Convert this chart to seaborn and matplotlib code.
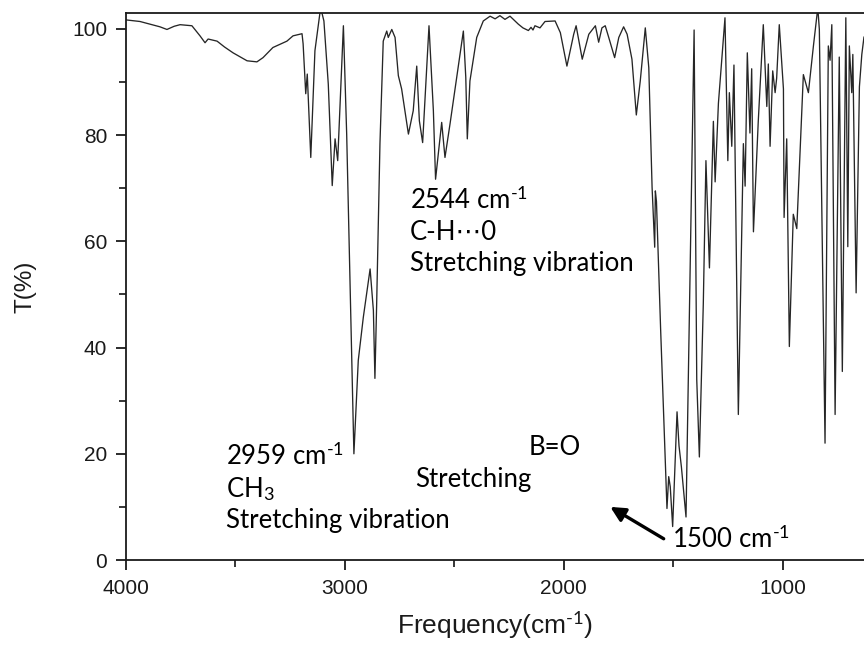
import matplotlib
matplotlib.use("Agg")
import matplotlib.pyplot as plt
import seaborn as sns
import pandas as pd

# IR transmittance spectrum: wavenumber (cm-1) and transmittance (%)
wavenumber = [
    4000, 3936, 3890, 3845, 3813, 3780, 3753, 3699, 3662, 3639, 3625, 3584, 3550, 3511,
    3447, 3402, 3374, 3329, 3265, 3237, 3196, 3191, 3179, 3172, 3156, 3137, 3111, 3096,
    3076, 3058, 3045, 3033, 3007, 2992, 2959, 2939, 2916, 2885, 2870, 2863, 2855, 2840,
    2825, 2809, 2802, 2786, 2771, 2756, 2741, 2710, 2688, 2672, 2660, 2645, 2616, 2596,
    2586, 2558, 2543, 2520, 2497, 2459, 2448, 2441, 2429, 2398, 2368, 2337, 2314, 2292,
    2269, 2246, 2208, 2187, 2162, 2150, 2141, 2132, 2109, 2086, 2040, 2016, 1986, 1955,
    1944, 1916, 1886, 1856, 1841, 1826, 1811, 1795, 1768, 1749, 1727, 1711, 1689, 1669,
    1651, 1628, 1612, 1597, 1585, 1582, 1577, 1558, 1529, 1521, 1514, 1503, 1483, 1474,
    1463, 1442, 1405, 1393, 1381, 1363, 1351, 1335, 1317, 1309, 1294, 1264, 1251, 1244,
    1233, 1223, 1203, 1180, 1172, 1162, 1150, 1142, 1134, 1112, 1089, 1073, 1066, 1058,
    1046, 1035, 1028, 1016, 997, 994, 982, 970, 952, 936, 906, 883, 860, 840,
    833, 807, 792, 784, 776, 761, 742, 728, 712, 703, 696, 685, 680, 665,
    650, 639, 629, 620,
]
transmittance = [
    101.7, 101.4, 100.9, 100.4, 99.9, 100.5, 100.8, 100.6, 98.7, 97.4, 98.1, 97.7, 96.6, 95.5,
    94.0, 93.8, 94.6, 96.5, 97.7, 98.7, 99.1, 97.2, 87.8, 91.5, 75.8, 95.9, 104.0, 101.5,
    89.6, 70.5, 79.3, 75.2, 100.6, 80.2, 20.0, 37.6, 45.7, 54.8, 47.0, 34.2, 48.3, 78.4,
    97.7, 99.6, 98.4, 99.9, 98.4, 91.2, 88.7, 80.2, 84.6, 93.0, 82.7, 78.6, 100.6, 84.6,
    71.7, 82.4, 75.8, 82.1, 88.7, 99.6, 90.9, 79.3, 90.2, 98.4, 101.5, 102.4, 101.9, 102.5,
    101.8, 102.4, 100.9, 100.2, 99.7, 100.3, 99.8, 100.6, 100.2, 101.4, 101.5, 99.3, 93.0, 99.0,
    100.6, 94.3, 99.0, 100.6, 97.5, 100.2, 100.6, 98.4, 94.6, 98.4, 100.4, 99.0, 94.3, 83.8,
    90.2, 100.2, 92.7, 70.2, 58.9, 69.5, 67.5, 43.5, 9.7, 15.7, 13.8, 6.3, 27.9, 21.5,
    17.5, 8.1, 99.8, 34.0, 19.4, 48.3, 75.2, 55.0, 82.6, 71.2, 86.0, 102.1, 75.2, 88.0,
    77.9, 93.2, 27.4, 78.4, 70.4, 95.5, 80.4, 92.5, 61.8, 82.6, 100.8, 85.4, 93.4, 77.9,
    92.1, 88.0, 90.7, 100.8, 88.7, 64.5, 79.3, 40.2, 65.1, 62.4, 91.4, 88.0, 96.8, 104.0,
    99.9, 22.0, 96.8, 94.1, 100.8, 27.4, 94.7, 35.5, 102.1, 59.0, 96.8, 88.0, 95.2, 50.3,
    89.1, 95.2, 98.5, 97.0,
]

x_ticks = [4000, 3000, 2000, 1000]
y_ticks = [0, 20, 40, 60, 80, 100]

spectrum = pd.DataFrame({"wavenumber": wavenumber, "T": transmittance})

sns.set_style("ticks")
plt.rcParams["font.family"] = ["Liberation Sans", "DejaVu Sans"]
plt.rcParams["mathtext.fontset"] = "custom"
plt.rcParams["mathtext.rm"] = "Lato"
plt.rcParams["mathtext.it"] = "Lato:italic"
plt.rcParams["mathtext.bf"] = "Lato:bold"

fig = plt.figure(figsize=(8.64, 6.51), dpi=100)
ax = fig.add_axes([126 / 864, 91 / 651, 738 / 864, 547 / 651])

sns.lineplot(data=spectrum, x="wavenumber", y="T", ax=ax, sort=False,
             estimator=None, color="#262626", linewidth=0.95)

ax.set_xlim(4000, 629)
ax.set_ylim(0, 103)
ax.set_xticks(x_ticks)
ax.set_xticks([3500, 2500, 1500], minor=True)
ax.set_yticks(y_ticks)
ax.set_yticks([10, 30, 50, 70, 90], minor=True)
ax.tick_params(axis="both", which="major", direction="out", length=7.5, width=1.3,
               labelsize=15, pad=6, colors="#1a1a1a")
ax.tick_params(axis="both", which="minor", direction="out", length=5, width=1.3)
for side in ("left", "bottom", "top"):
    ax.spines[side].set_linewidth(1.3)
    ax.spines[side].set_color("#1a1a1a")
ax.spines["right"].set_visible(False)

sup = r"$^{\text{-}1}$"
ax.set_xlabel("Frequency(cm" + sup + ")", fontsize=19, labelpad=8, color="#1a1a1a")
ax.set_ylabel("T(%)", fontsize=17.5, labelpad=26, color="#1a1a1a")

note = dict(family=["Lato", "DejaVu Sans"], fontsize=18.5, color="black",
            ha="left", va="baseline")
ax.text(2703, 66.1, "2544 cm" + sup, **note)
ax.text(2703, 60.3, "C-H\u22ef0", **note)
ax.text(2703, 54.5, "Stretching vibration", **note)

ax.text(3543, 17.9, "2959 cm" + sup, **note)
ax.text(3543, 11.9, "CH$_3$", **note)
ax.text(3543, 6.0, "Stretching vibration", **note)

ax.text(2160, 19.8, "B=O", **note)
ax.text(2680, 13.8, "Stretching", **note)

ax.text(1506, 2.3, "1500 cm" + sup, **note)
ax.annotate("", xy=(1788, 10.0), xytext=(1544, 4.0),
            arrowprops=dict(arrowstyle="-|>", color="black", lw=2.4,
                            mutation_scale=22, shrinkA=0, shrinkB=0))

fig.savefig("out.png", dpi=100)
